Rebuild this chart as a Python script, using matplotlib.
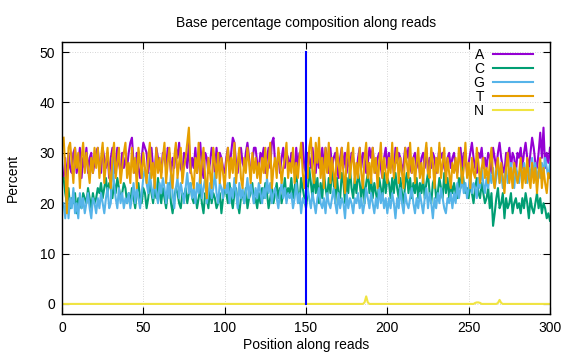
import numpy as np
import matplotlib
matplotlib.use('Agg')
import matplotlib.pyplot as plt

# ---------------------------------------------------------------------------
# Datos (porcentaje por posicion, 1..300)
# ---------------------------------------------------------------------------
pct_A = [
    25, 29, 24, 30, 27, 26, 30, 31, 26, 28, 31, 25, 29, 27, 31, 26, 29, 30, 26, 28,
    30, 31, 27, 26, 31, 29, 27, 30, 25, 29, 31, 26, 28, 31, 28, 26, 30, 27, 29, 27,
    30, 32, 33, 28, 26, 30, 27, 25, 29, 32, 31, 30, 26, 29, 31, 27, 26, 31, 29, 27,
    26, 30, 29, 27, 31, 30, 26, 29, 27, 31, 29, 32, 27, 26, 30, 29, 27, 32, 26, 29,
    27, 31, 26, 29, 32, 27, 25, 30, 29, 26, 28, 31, 29, 26, 31, 27, 30, 29, 27, 26,
    29, 31, 27, 30, 33, 32, 28, 26, 30, 31, 28, 27, 30, 32, 29, 26, 28, 31, 31, 28,
    27, 30, 29, 31, 26, 29, 31, 27, 32, 33, 28, 27, 30, 26, 29, 31, 27, 30, 29, 27,
    30, 29, 26, 31, 27, 30, 29, 32, 27, 26, 30, 29, 27, 31, 28, 26, 30, 27, 29, 31,
    27, 31, 29, 26, 31, 27, 29, 30, 27, 25, 29, 31, 27, 30, 26, 29, 27, 30, 29, 27,
    26, 29, 31, 27, 30, 29, 26, 28, 31, 29, 31, 27, 26, 29, 30, 27, 25, 29, 31, 27,
    30, 27, 29, 26, 31, 28, 30, 29, 26, 28, 31, 29, 31, 27, 26, 29, 30, 27, 29, 26,
    29, 30, 27, 31, 26, 29, 27, 30, 29, 26, 28, 31, 29, 30, 27, 26, 29, 30, 27, 29,
    30, 27, 26, 29, 31, 27, 30, 29, 26, 28, 30, 32, 29, 27, 26, 30, 29, 31, 27, 29,
    27, 30, 29, 26, 31, 29, 27, 30, 32, 29, 27, 26, 30, 29, 31, 27, 30, 29, 26, 30,
    29, 31, 27, 30, 32, 29, 27, 30, 33, 31, 28, 27, 30, 34, 29, 35, 27, 30, 28, 31,
]

pct_C = [
    25, 22, 20, 23, 19, 21, 20, 22, 18, 21, 20, 19, 22, 21, 20, 23, 21, 19, 22, 20,
    21, 23, 22, 24, 21, 23, 25, 22, 24, 23, 21, 24, 22, 25, 23, 21, 22, 24, 23, 20,
    22, 20, 23, 21, 19, 22, 24, 21, 20, 23, 22, 19, 21, 24, 22, 20, 23, 21, 25, 22,
    20, 23, 21, 19, 22, 24, 20, 18, 21, 23, 22, 20, 19, 22, 21, 23, 20, 22, 24, 21,
    20, 22, 19, 21, 23, 20, 18, 22, 21, 19, 23, 20, 22, 21, 19, 20, 22, 18, 21, 23,
    22, 20, 24, 21, 19, 22, 23, 20, 18, 21, 22, 20, 23, 19, 21, 22, 24, 20, 21, 19,
    22, 20, 23, 21, 24, 22, 19, 21, 23, 20, 22, 24, 21, 23, 20, 22, 25, 21, 23, 22,
    25, 21, 23, 26, 22, 20, 25, 23, 21, 19, 22, 27, 24, 21, 26, 22, 25, 20, 24, 21,
    26, 23, 21, 25, 22, 27, 24, 20, 25, 22, 21, 26, 24, 20, 25, 22, 27, 23, 21, 25,
    22, 26, 24, 21, 25, 20, 24, 26, 22, 25, 21, 24, 22, 20, 25, 23, 21, 26, 22, 25,
    24, 21, 25, 22, 26, 23, 21, 25, 22, 20, 24, 26, 22, 25, 21, 24, 22, 25, 21, 24,
    22, 25, 21, 24, 26, 22, 20, 24, 25, 21, 22, 25, 23, 21, 26, 22, 25, 21, 24, 22,
    24, 22, 21, 25, 23, 27, 24, 22, 23, 21, 24, 22, 20, 23, 25, 22, 21, 24, 22, 20,
    21, 23, 19, 22, 15.5, 18, 21, 23, 19, 20, 22, 17, 21, 19, 20, 22, 18, 20, 21, 19,
    20, 18, 21, 19, 22, 20, 17, 21, 19, 18, 20, 22, 19, 21, 18, 20, 19, 17, 18, 16.5,
]

pct_G = [
    20, 17, 22, 17, 21, 19, 23, 18, 20, 17, 22, 19, 21, 18, 20, 22, 19, 17, 21, 20,
    18, 21, 19, 22, 20, 18, 21, 23, 19, 20, 29, 24, 21, 19, 23, 20, 22, 19, 21, 20,
    22, 19, 21, 24, 20, 23, 21, 19, 22, 25, 27, 24, 22, 26, 23, 21, 25, 22, 20, 24,
    22, 25, 23, 20, 24, 21, 26, 22, 19, 23, 25, 21, 24, 22, 20, 23, 26, 22, 24, 21,
    23, 20, 24, 22, 26, 21, 23, 25, 20, 22, 24, 21, 23, 26, 22, 20, 24, 23, 21, 25,
    22, 24, 20, 23, 21, 25, 22, 19, 24, 21, 23, 20, 22, 25, 21, 24, 22, 20, 23, 21,
    24, 22, 20, 23, 21, 25, 22, 24, 20, 22, 23, 21, 19, 22, 24, 21, 23, 20, 22, 21,
    22, 19, 21, 24, 20, 22, 18, 21, 20, 21, 23, 21, 19, 22, 20, 18, 21, 23, 20, 19,
    21, 18, 22, 20, 19, 21, 23, 20, 18, 22, 19, 21, 20, 17, 22, 19, 21, 20, 18, 21,
    20, 22, 19, 21, 18, 20, 23, 21, 19, 22, 20, 18, 21, 19, 23, 20, 22, 19, 21, 18,
    21, 19, 22, 20, 17, 21, 19, 23, 20, 18, 22, 20, 19, 21, 23, 20, 18, 21, 19, 22,
    20, 18, 21, 23, 19, 22, 20, 17, 21, 19, 22, 20, 23, 21, 19, 18, 21, 20, 22, 19,
    22, 20, 24, 21, 23, 25, 22, 24, 21, 23, 26, 22, 24, 23, 21, 25, 23, 27, 24, 22,
    25, 23, 26, 24, 27, 23, 25, 28, 24, 26, 23, 25, 27, 24, 26, 28, 25, 23, 27, 26,
    24, 27, 25, 28, 26, 24, 27, 25, 29, 26, 28, 24, 27, 25, 28, 26, 29, 27, 25, 28,
]

pct_T = [
    33, 27, 18, 31, 32, 28, 24, 31, 27, 30, 23, 29, 32, 26, 30, 27, 24, 29, 26, 31,
    27, 31, 25, 29, 32, 24, 28, 31, 26, 23, 29, 32, 25, 28, 31, 24, 27, 30, 32, 25,
    28, 24, 31, 26, 29, 23, 31, 28, 25, 30, 27, 24, 29, 32, 25, 28, 23, 31, 26, 29,
    25, 29, 32, 24, 28, 31, 26, 23, 29, 32, 25, 28, 31, 24, 27, 29, 32, 35, 27, 25,
    23, 29, 26, 32, 24, 28, 31, 25, 21, 29, 26, 23, 31, 28, 25, 30, 24, 29, 26, 23,
    28, 31, 25, 29, 26, 32, 24, 28, 31, 25, 23, 29, 26, 31, 28, 24, 30, 26, 29, 25,
    28, 24, 29, 26, 31, 25, 28, 32, 23, 27, 29, 25, 31, 28, 24, 27, 29, 32, 25, 28,
    26, 31, 24, 28, 25, 29, 32, 26, 23, 28, 25, 31, 33, 26, 24, 32, 28, 33, 25, 29,
    23, 31, 26, 32, 24, 29, 26, 23, 31, 28, 25, 31, 26, 22, 29, 32, 25, 28, 31, 24,
    28, 25, 31, 26, 23, 29, 32, 25, 28, 24, 31, 26, 29, 23, 28, 32, 25, 29, 26, 24,
    29, 26, 32, 25, 28, 31, 24, 29, 26, 23, 31, 28, 25, 32, 26, 29, 24, 28, 31, 25,
    28, 24, 29, 32, 26, 25, 31, 28, 23, 29, 26, 32, 25, 28, 31, 24, 29, 26, 23, 28,
    26, 29, 25, 31, 28, 24, 27, 32, 25, 28, 23, 29, 26, 25, 31, 28, 24, 27, 29, 25,
    27, 24, 28, 31, 25, 23, 27, 29, 24, 28, 25, 22, 27, 30, 24, 27, 23, 28, 26, 24,
    26, 29, 23, 27, 24, 29, 25, 23, 28, 24, 27, 22, 26, 29, 23, 27, 24, 22, 26, 25,
]

# N es cero salvo unos pocos picos
n_peaks = {186: 0.3, 187: 1.5, 188: 0.3,
           254: 0.2, 255: 0.3, 256: 0.3, 257: 0.2,
           268: 0.2, 269: 0.8, 270: 0.2}

bases = ['A', 'C', 'G', 'T', 'N']
colors = ['#9400d3', '#009e73', '#56b4e9', '#e69f00', '#f0e442']
marker_pos = 150  # linea vertical azul

positions = np.arange(1, len(pct_A) + 1)
pct_N = np.zeros(len(positions))
for p, v in n_peaks.items():
    pct_N[p - 1] = v

series = [pct_A, pct_C, pct_G, pct_T, pct_N]

# ---------------------------------------------------------------------------
# Grafico
# ---------------------------------------------------------------------------
plt.rcParams['font.family'] = ['Liberation Sans', 'DejaVu Sans']
plt.rcParams['font.size'] = 10

fig = plt.figure(figsize=(5.76, 3.6), dpi=100)
ax = fig.add_axes([62 / 576, 46 / 360, 488 / 576, 272 / 360])

for base, vals, col in zip(bases, series, colors):
    ax.plot(positions, vals, color=col, lw=1.5, label=base)

ax.plot([marker_pos, marker_pos], [0, 50], color='#0000ff', lw=1.5)

ax.set_xlim(0, 300)
ax.set_ylim(-2, 52)
ax.set_xticks(np.arange(0, 301, 50))
ax.set_yticks(np.arange(0, 51, 10))
ax.tick_params(direction='in', top=True, right=True, length=5, width=0.8,
               labelsize=10, pad=5)
ax.grid(True, color='#c8c8c8', linestyle=(0, (1, 2)), lw=0.6)
for sp in ax.spines.values():
    sp.set_linewidth(1.0)

ax.set_title('Base percentage composition along reads', fontsize=10, pad=11)
ax.set_xlabel('Position along reads', fontsize=10, labelpad=2)
ax.set_ylabel('Percent', fontsize=10, labelpad=14)

leg = ax.legend(loc='upper right', bbox_to_anchor=(0.985, 1.015),
                markerfirst=False, frameon=False, handlelength=2.9,
                handletextpad=0.6, labelspacing=0.0, borderaxespad=0.3,
                fontsize=10)

fig.savefig('out.png', dpi=100)
